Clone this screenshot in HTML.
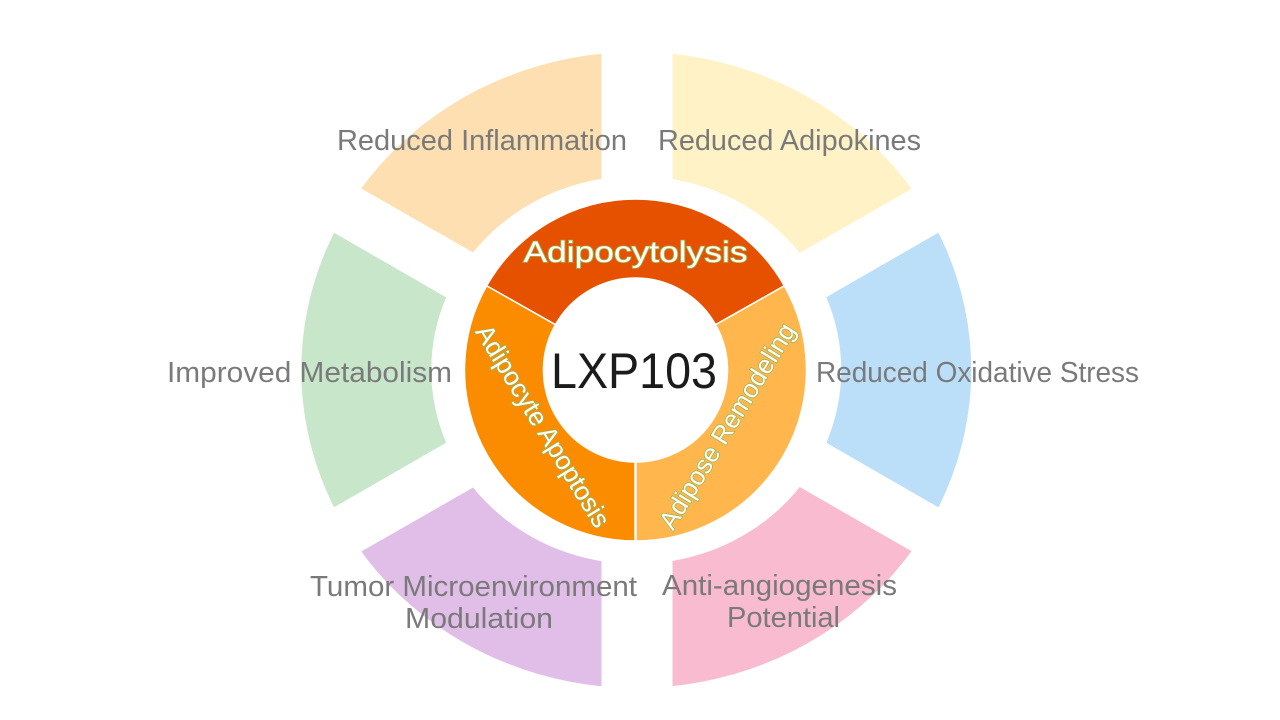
<!DOCTYPE html>
<html>
<head>
<meta charset="utf-8">
<style>
  html, body { margin: 0; padding: 0; background: #ffffff; }
  body { width: 1280px; height: 720px; overflow: hidden; }
  svg { display: block; }
  .lbl { font-family: "Liberation Sans", Arial, sans-serif; font-size: 29px; fill: #7a7a7a; }
  .ring { font-family: "Liberation Sans", Arial, sans-serif; fill: #fffff4; stroke: #9cb35a; stroke-width: 1.6px; paint-order: stroke; }
</style>
</head>
<body>
<svg width="1280" height="720" viewBox="0 0 1280 720" xmlns="http://www.w3.org/2000/svg">
  <defs>
    <clipPath id="annulus" clip-rule="evenodd">
      <path clip-rule="evenodd" d="M 301.25 370 A 335 318 0 1 0 971.25 370 A 335 318 0 1 0 301.25 370 Z M 431.25 370 A 205 194 0 1 0 841.25 370 A 205 194 0 1 0 431.25 370 Z"/>
    </clipPath>
  </defs>

  <!-- Outer ring segments -->
  <g clip-path="url(#annulus)">
    <polygon fill="#FEDFB2" points="601.5,0 601.5,326 32,0"/>
    <polygon fill="#FFF2C6" points="672.5,0 672.5,326 1240.5,0"/>
    <polygon fill="#C8E6CA" points="572.3,370 0,40.3 0,699.7"/>
    <polygon fill="#BBDEF9" points="700.2,370 1272,40.3 1272,699.7"/>
    <polygon fill="#E1BEE8" points="601.5,720 601.5,414 67,720"/>
    <polygon fill="#F8BBD0" points="672.5,720 672.5,414 1205.5,720"/>
  </g>

  <!-- Inner ring -->
  <path fill="#E65100" stroke="#ffffff" stroke-width="1.5"
        d="M 486.66 285.8 A 171 171 0 0 1 784.34 285.8 L 715.58 324.7 A 92 92 0 0 0 555.42 324.7 Z"/>
  <path fill="#FB8C00" stroke="#ffffff" stroke-width="1.5"
        d="M 486.66 285.8 A 171 171 0 0 0 635.5 541 L 635.5 462 A 92 92 0 0 1 555.42 324.7 Z"/>
  <path fill="#FFB74D" stroke="#ffffff" stroke-width="1.5"
        d="M 635.5 541 A 171 171 0 0 0 784.34 285.8 L 715.58 324.7 A 92 92 0 0 1 635.5 462 Z"/>
  <line x1="635.5" y1="460" x2="635.5" y2="543" stroke="#ffffff" stroke-width="2.5"/>

  <!-- Inner ring labels -->
  <text class="ring" x="635.5" y="262" font-size="30" text-anchor="middle" textLength="224" lengthAdjust="spacingAndGlyphs">Adipocytolysis</text>
  <text class="ring" transform="translate(543,426) rotate(58.5)" x="0" y="9" font-size="26" text-anchor="middle" textLength="232" lengthAdjust="spacingAndGlyphs">Adipocyte Apoptosis</text>
  <text class="ring" transform="translate(727,426) rotate(-58.5)" x="0" y="9" font-size="26" text-anchor="middle" textLength="236" lengthAdjust="spacingAndGlyphs">Adipose Remodeling</text>

  <!-- Center label -->
  <text x="551" y="388" font-family="Liberation Sans, Arial, sans-serif" font-size="50" fill="#1b1b1b" textLength="166" lengthAdjust="spacingAndGlyphs">LXP103</text>

  <!-- Outer labels -->
  <text class="lbl" x="337" y="150" textLength="290" lengthAdjust="spacingAndGlyphs">Reduced Inflammation</text>
  <text class="lbl" x="658" y="150" textLength="263" lengthAdjust="spacingAndGlyphs">Reduced Adipokines</text>
  <text class="lbl" x="167" y="382" textLength="285" lengthAdjust="spacingAndGlyphs">Improved Metabolism</text>
  <text class="lbl" x="816" y="382" textLength="323" lengthAdjust="spacingAndGlyphs">Reduced Oxidative Stress</text>
  <text class="lbl" x="310" y="596" textLength="327" lengthAdjust="spacingAndGlyphs">Tumor Microenvironment</text>
  <text class="lbl" x="405" y="628" textLength="148" lengthAdjust="spacingAndGlyphs">Modulation</text>
  <text class="lbl" x="662" y="595" textLength="235" lengthAdjust="spacingAndGlyphs">Anti-angiogenesis</text>
  <text class="lbl" x="727" y="627" textLength="113" lengthAdjust="spacingAndGlyphs">Potential</text>
</svg>
</body>
</html>
